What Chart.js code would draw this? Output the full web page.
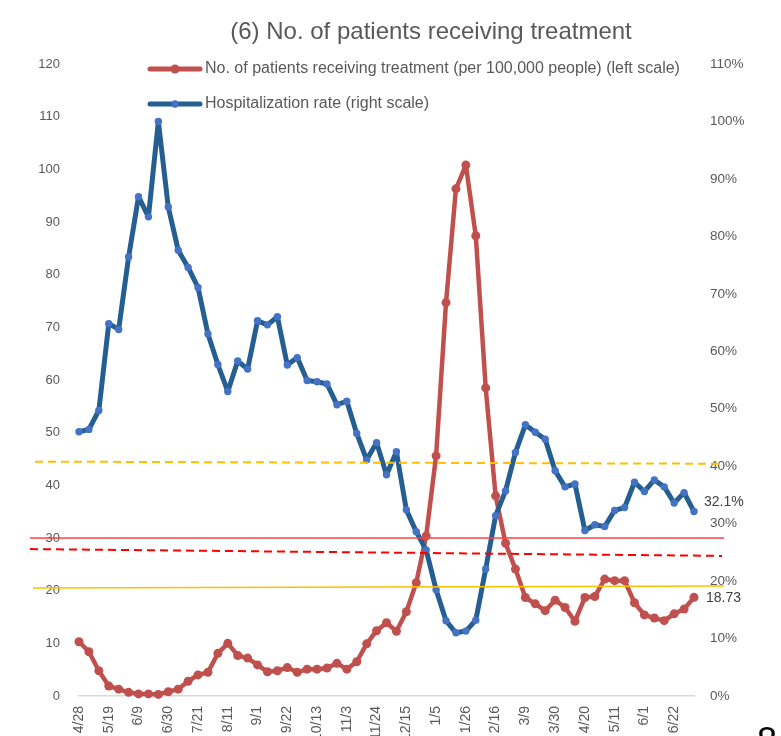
<!DOCTYPE html>
<html>
<head>
<meta charset="utf-8">
<script src="https://cdn.jsdelivr.net/npm/chart.js@4.4.1/dist/chart.umd.min.js"></script>
<style>
  html, body { margin: 0; padding: 0; background: #fff; overflow: hidden; }
  #wrap { width: 781px; height: 760px; }
</style>
</head>
<body>
<div id="wrap"><canvas id="chart" width="781" height="760"></canvas></div>
<script>
// weekly dates, only every third one is printed on the axis
const weekLabels = [
    '4/28', '5/5', '5/12', '5/19', '5/26', '6/2', '6/9', '6/16', '6/23', '6/30',
    '7/7', '7/14', '7/21', '7/28', '8/4', '8/11', '8/18', '8/25', '9/1', '9/8',
    '9/15', '9/22', '9/29', '10/6', '10/13', '10/20', '10/27', '11/3', '11/10', '11/17',
    '11/24', '12/1', '12/8', '12/15', '12/22', '12/29', '1/5', '1/12', '1/19', '1/26',
    '2/2', '2/9', '2/16', '2/23', '3/2', '3/9', '3/16', '3/23', '3/30', '4/6',
    '4/13', '4/20', '4/27', '5/4', '5/11', '5/18', '5/25', '6/1', '6/8', '6/15',
    '6/22', '6/29', '7/6'
];

// No. of patients receiving treatment (per 100,000 people)
const treatedPer100k = [
    10.3, 8.4, 4.8, 1.9, 1.3, 0.7, 0.4, 0.4, 0.3, 0.8,
    1.3, 2.8, 4.0, 4.5, 8.1, 10.0, 7.7, 7.2, 5.9, 4.6,
    4.8, 5.4, 4.5, 5.1, 5.1, 5.3, 6.2, 5.1, 6.5, 9.9,
    12.4, 13.9, 12.3, 16.0, 21.5, 30.4, 45.6, 74.7, 96.3, 100.8,
    87.4, 58.5, 38.0, 29.0, 24.1, 18.7, 17.5, 16.2, 18.2, 16.8,
    14.2, 18.7, 18.9, 22.2, 21.9, 21.9, 17.7, 15.4, 14.8, 14.3,
    15.6, 16.5, 18.73
];

// Hospitalization rate (%)
const hospitalRate = [
    46.0, 46.4, 49.7, 64.8, 63.8, 76.4, 86.9, 83.4, 100.0, 85.1,
    77.6, 74.6, 71.1, 63.0, 57.7, 53.0, 58.3, 56.9, 65.3, 64.6,
    66.0, 57.6, 58.9, 54.9, 54.7, 54.3, 50.7, 51.3, 45.7, 41.1,
    44.1, 38.5, 42.5, 32.4, 28.6, 25.4, 18.5, 13.1, 11.0, 11.3,
    13.2, 22.1, 31.4, 35.7, 42.4, 47.2, 45.9, 44.7, 39.2, 36.4,
    36.9, 28.8, 29.8, 29.5, 32.3, 32.8, 37.2, 35.6, 37.6, 36.4,
    33.6, 35.4, 32.1
];

const leftMax = 120;
const rightMax = 110;
const tickStep = 10;

// hand drawn guide lines, level at left end / right end (left scale units)
const guideStart = [44.5, 30, 27.9, 20.5];
const guideEnd = [44.1, 30, 26.6, 20.9];

const titleText = '(6) No. of patients receiving treatment';
const pageNumber = '8';

const FONT = "'Liberation Sans', Arial, sans-serif";
const GREY = '#595959';

const overlayPlugin = {
    id: 'overlay',
    afterDatasetsDraw(chart) {
        const ctx = chart.ctx;
        const yScale = chart.scales.y;
        const area = chart.chartArea;

        // guide lines
        const guideStyles = [
            { color: '#FFC000', width: 2, dash: [8, 5], from: 44, to: 26 },
            { color: '#FF4040', width: 1.5, dash: [], from: 49, to: 30 },
            { color: '#FF0000', width: 2, dash: [8, 5], from: 49, to: 28 },
            { color: '#FFC000', width: 1.5, dash: [], from: 46, to: 30 }
        ];
        guideStart.forEach((v, i) => {
            const st = guideStyles[i];
            ctx.save();
            ctx.strokeStyle = st.color;
            ctx.lineWidth = st.width;
            ctx.setLineDash(st.dash);
            ctx.beginPath();
            ctx.moveTo(area.left - st.from, yScale.getPixelForValue(v));
            ctx.lineTo(area.right + st.to, yScale.getPixelForValue(guideEnd[i]));
            ctx.stroke();
            ctx.restore();
        });

        // labels on the last points
        ctx.save();
        ctx.font = '14px ' + FONT;
        ctx.fillStyle = '#404040';
        ctx.textAlign = 'left';
        ctx.textBaseline = 'middle';
        const redLast = chart.getDatasetMeta(0).data[treatedPer100k.length - 1];
        const blueLast = chart.getDatasetMeta(1).data[hospitalRate.length - 1];
        ctx.fillText(treatedPer100k[treatedPer100k.length - 1].toFixed(2), redLast.x + 12, redLast.y + 1);
        ctx.fillText(hospitalRate[hospitalRate.length - 1].toFixed(1) + '%', blueLast.x + 10, blueLast.y - 9);
        ctx.restore();
    },
    afterDraw(chart) {
        const ctx = chart.ctx;
        ctx.save();

        // title
        ctx.font = '24px ' + FONT;
        ctx.fillStyle = GREY;
        ctx.textAlign = 'center';
        ctx.textBaseline = 'middle';
        ctx.fillText(titleText, 431, 32);

        // legend, stacked inside the plot
        ctx.textAlign = 'left';
        ctx.font = '16px ' + FONT;
        chart.data.datasets.forEach((ds, i) => {
            const ly = 69 + 35 * i;
            ctx.strokeStyle = ds.borderColor;
            ctx.lineWidth = 5;
            ctx.lineCap = 'round';
            ctx.beginPath();
            ctx.moveTo(150, ly);
            ctx.lineTo(200, ly);
            ctx.stroke();
            ctx.fillStyle = ds.pointBackgroundColor;
            ctx.beginPath();
            ctx.arc(175, ly, ds.pointRadius, 0, Math.PI * 2);
            ctx.fill();
            ctx.fillStyle = GREY;
            ctx.fillText(ds.label, 205, ly);
        });

        // page number peeking in at the corner
        ctx.font = '36px ' + FONT;
        ctx.fillStyle = '#000000';
        ctx.textBaseline = 'alphabetic';
        ctx.fillText(pageNumber, 757, 753);
        ctx.restore();
    }
};

const ctx = document.getElementById('chart').getContext('2d');

new Chart(ctx, {
    type: 'line',
    data: {
        labels: weekLabels,
        datasets: [
            {
                label: 'No. of patients receiving treatment (per 100,000 people) (left scale)',
                data: treatedPer100k,
                yAxisID: 'y',
                borderColor: '#C0504D',
                borderWidth: 4.5,
                borderJoinStyle: 'round',
                borderCapStyle: 'round',
                pointRadius: 4.5,
                pointBackgroundColor: '#C0504D',
                pointBorderWidth: 0,
                tension: 0,
                clip: false,
                order: 2
            },
            {
                label: 'Hospitalization rate (right scale)',
                data: hospitalRate,
                yAxisID: 'y1',
                borderColor: '#255E91',
                borderWidth: 5,
                borderJoinStyle: 'round',
                borderCapStyle: 'round',
                pointRadius: 3.7,
                pointBackgroundColor: '#4472C4',
                pointBorderWidth: 0,
                tension: 0,
                clip: false,
                order: 1
            }
        ]
    },
    options: {
        responsive: false,
        animation: false,
        layout: { padding: { top: 64, left: 0, right: 0, bottom: 0 } },
        plugins: {
            legend: { display: false },
            title: { display: false },
            tooltip: { enabled: false }
        },
        scales: {
            x: {
                grid: { display: false, drawTicks: false },
                border: { display: true, color: '#D9D9D9', width: 1.5 },
                ticks: {
                    autoSkip: false,
                    maxRotation: 90,
                    minRotation: 90,
                    padding: 10,
                    color: GREY,
                    font: { size: 14, family: FONT },
                    callback: function (val, idx) {
                        return idx % 3 === 0 ? this.getLabelForValue(val) : '';
                    }
                },
                afterFit(scale) { scale.height = 64; }
            },
            y: {
                position: 'left',
                min: 0,
                max: leftMax,
                grid: { display: false, drawTicks: false },
                border: { display: false },
                ticks: {
                    stepSize: tickStep,
                    padding: 19,
                    color: GREY,
                    font: { size: 13, family: FONT }
                },
                afterFit(scale) { scale.width = 79; }
            },
            y1: {
                position: 'right',
                min: 0,
                max: rightMax,
                grid: { display: false, drawTicks: false },
                border: { display: false },
                ticks: {
                    stepSize: tickStep,
                    padding: 16,
                    color: GREY,
                    font: { size: 13.5, family: FONT },
                    callback: v => v + '%'
                },
                afterFit(scale) { scale.width = 87; }
            }
        }
    },
    plugins: [overlayPlugin]
});
</script>
</body>
</html>
